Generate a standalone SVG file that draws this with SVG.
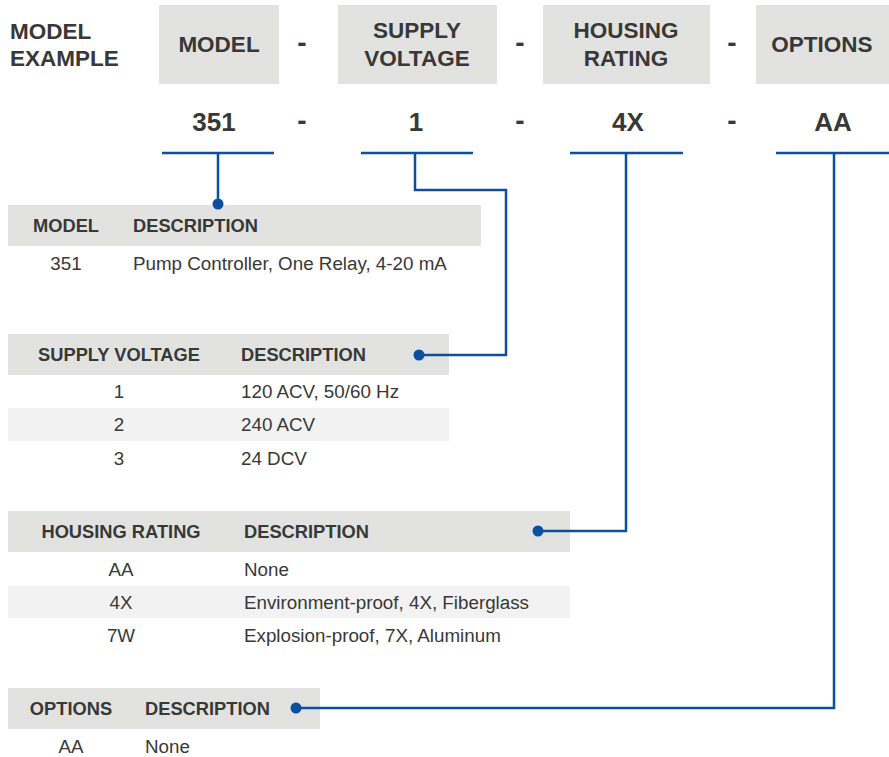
<svg xmlns="http://www.w3.org/2000/svg" width="889" height="757" viewBox="0 0 889 757">
<style>
text{font-family:"Liberation Sans",Arial,sans-serif;fill:#383838}
.top{font-size:22.5px;font-weight:bold}
.code{font-size:26px;font-weight:bold}
.dash{font-size:28px;font-weight:bold}
.th{font-size:18.3px;font-weight:bold}
.td{font-size:18.8px}
.hdr{fill:#e2e3e1}
.band{fill:#f1f2f1}
.c{text-anchor:middle}
.ln{fill:none;stroke:#0b4f9e;stroke-width:2.5}
.dot{fill:#0b4f9e}
</style>
<rect width="889" height="757" fill="#ffffff"/>
<g id="title">
<text class="top" x="10" y="39">MODEL</text>
<text class="top" x="10" y="66">EXAMPLE</text>
</g>
<g id="hdr-model"><rect class="hdr" x="159" y="5" width="120" height="79"/><text class="top c" x="219" y="52">MODEL</text></g>
<g id="hdr-supply"><rect class="hdr" x="338" y="5" width="159" height="79"/><text class="top c" x="417" y="38">SUPPLY</text><text class="top c" x="417" y="66">VOLTAGE</text></g>
<g id="hdr-housing"><rect class="hdr" x="543" y="5" width="167" height="79"/><text class="top c" x="626" y="38">HOUSING</text><text class="top c" x="626" y="66">RATING</text></g>
<g id="hdr-options"><rect class="hdr" x="756" y="5" width="133" height="79"/><text class="top c" x="822" y="52">OPTIONS</text></g>
<g id="dashes">
<text class="dash c" x="302" y="52">-</text><text class="dash c" x="520" y="52">-</text><text class="dash c" x="732" y="52">-</text>
<text class="dash c" x="302" y="130">-</text><text class="dash c" x="520" y="130">-</text><text class="dash c" x="732" y="130">-</text>
</g>
<g id="codes">
<text class="code c" x="214" y="131">351</text>
<text class="code c" x="416" y="131">1</text>
<text class="code c" x="628" y="131">4X</text>
<text class="code c" x="833" y="131">AA</text>
</g>
<g id="table-model">
<rect class="hdr" x="8" y="205" width="473" height="41"/>
<text class="th c" x="66" y="232">MODEL</text>
<text class="th" x="133" y="232">DESCRIPTION</text>
<text class="td c" x="66" y="270">351</text>
<text class="td" x="133" y="270">Pump Controller, One Relay, 4-20 mA</text>
</g>
<g id="table-supply">
<rect class="hdr" x="8" y="334" width="441" height="41"/>
<rect class="band" x="8" y="408" width="441" height="33"/>
<text class="th c" x="119" y="361">SUPPLY VOLTAGE</text>
<text class="th" x="241" y="361">DESCRIPTION</text>
<text class="td c" x="119" y="398">1</text><text class="td" x="241" y="398">120 ACV, 50/60 Hz</text>
<text class="td c" x="119" y="431">2</text><text class="td" x="241" y="431">240 ACV</text>
<text class="td c" x="119" y="465">3</text><text class="td" x="241" y="465">24 DCV</text>
</g>
<g id="table-housing">
<rect class="hdr" x="8" y="511" width="562" height="41"/>
<rect class="band" x="8" y="586" width="562" height="32"/>
<text class="th c" x="121" y="538">HOUSING RATING</text>
<text class="th" x="244" y="538">DESCRIPTION</text>
<text class="td c" x="121" y="576">AA</text><text class="td" x="244" y="576">None</text>
<text class="td c" x="121" y="609">4X</text><text class="td" x="244" y="609">Environment-proof, 4X, Fiberglass</text>
<text class="td c" x="121" y="642">7W</text><text class="td" x="244" y="642">Explosion-proof, 7X, Aluminum</text>
</g>
<g id="table-options">
<rect class="hdr" x="8" y="688" width="312" height="41"/>
<text class="th c" x="71" y="715">OPTIONS</text>
<text class="th" x="145" y="715">DESCRIPTION</text>
<text class="td c" x="71" y="753">AA</text><text class="td" x="145" y="753">None</text>
</g>
<g id="connectors">
<path class="ln" d="M162 153H274M361 153H473M570 153H683M776 153H889"/>
<path class="ln" d="M218 153V204"/>
<path class="ln" d="M415 153V190H506V355H419"/>
<path class="ln" d="M626 153V531H538"/>
<path class="ln" d="M834 153V708H296"/>
<circle class="dot" cx="218" cy="204" r="5.5"/>
<circle class="dot" cx="419" cy="355" r="5.5"/>
<circle class="dot" cx="538" cy="531" r="5.5"/>
<circle class="dot" cx="296" cy="708" r="5.5"/>
</g>
</svg>
